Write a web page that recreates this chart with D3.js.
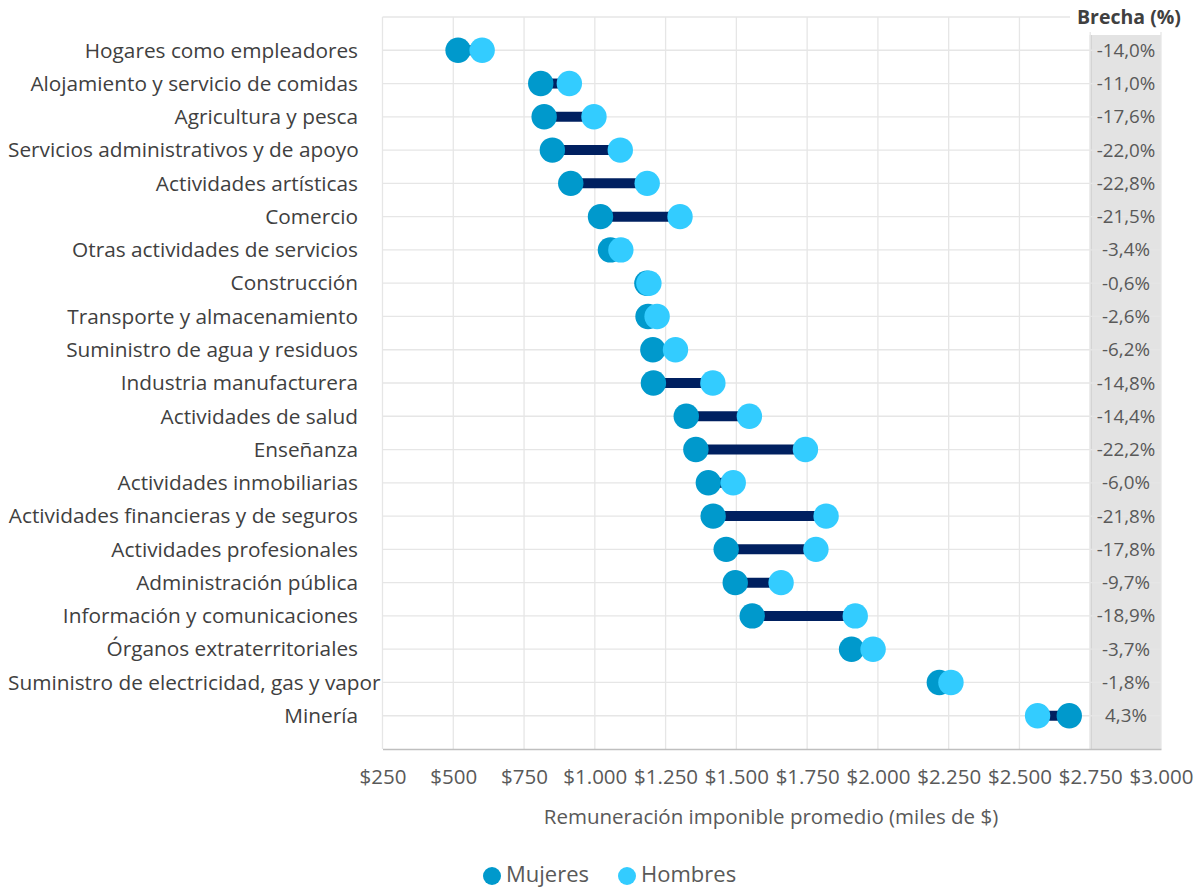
<!DOCTYPE html>
<html lang="es">
<head>
<meta charset="utf-8">
<script src="https://cdn.jsdelivr.net/npm/d3@7"></script>
<style>
  html, body { margin: 0; padding: 0; background: #ffffff; }
  svg { display: block; }
  text { font-family: "Open Sans", "Noto Sans", sans-serif; }
</style>
</head>
<body>
<svg id="chart" width="1204" height="890"></svg>
<script>
// Sectores económicos (de menor a mayor remuneración de mujeres)
const sectores = [
  "Hogares como empleadores",
  "Alojamiento y servicio de comidas",
  "Agricultura y pesca",
  "Servicios administrativos y de apoyo",
  "Actividades artísticas",
  "Comercio",
  "Otras actividades de servicios",
  "Construcción",
  "Transporte y almacenamiento",
  "Suministro de agua y residuos",
  "Industria manufacturera",
  "Actividades de salud",
  "Enseñanza",
  "Actividades inmobiliarias",
  "Actividades financieras y de seguros",
  "Actividades profesionales",
  "Administración pública",
  "Información y comunicaciones",
  "Órganos extraterritoriales",
  "Suministro de electricidad, gas y vapor",
  "Minería"
];

// Remuneración imponible promedio (miles de $)
const mujeres = [517, 809, 821, 850, 915, 1020, 1055, 1184, 1188, 1205, 1207, 1323, 1357, 1401, 1418, 1464, 1496, 1556, 1907, 2217, 2676];
const hombres = [602, 910, 997, 1090, 1185, 1301, 1092, 1191, 1220, 1285, 1417, 1546, 1744, 1489, 1817, 1781, 1658, 1920, 1983, 2258, 2564];

// Brecha salarial publicada por sector
const brecha = ["-14,0%", "-11,0%", "-17,6%", "-22,0%", "-22,8%", "-21,5%", "-3,4%", "-0,6%", "-2,6%", "-6,2%", "-14,8%", "-14,4%", "-22,2%", "-6,0%", "-21,8%", "-17,8%", "-9,7%", "-18,9%", "-3,7%", "-1,8%", "4,3%"];

const ticksX = [250, 500, 750, 1000, 1250, 1500, 1750, 2000, 2250, 2500, 2750, 3000];

const colorMujeres = "#0099cc";
const colorHombres = "#33ccff";
const colorBrecha = "#002060";

const svg = d3.select("#chart");
const plot = { left: 382.5, right: 1161, top: 17, bottom: 749 };

const x = d3.scaleLinear().domain([250, 3000]).range([plot.left, plot.right]);
const y = d3.scaleLinear().domain([0, sectores.length + 1]).range([plot.top, plot.bottom]);

const fmtMoney = v => "$" + d3.format(",")(v).replace(/,/g, ".");

// Franja gris de la columna de brecha
svg.append("rect")
  .attr("x", x(2750)).attr("y", 35)
  .attr("width", x(3000) - x(2750)).attr("height", plot.bottom - 35)
  .attr("fill", "#e3e3e3");
svg.append("line")
  .attr("x1", x(2750) + 0.5).attr("x2", x(2750) + 0.5)
  .attr("y1", 35).attr("y2", plot.bottom)
  .attr("stroke", "#cfcfcf").attr("stroke-width", 2);

// Cuadrícula vertical
const grid = svg.append("g");
grid.selectAll("line.v")
  .data(ticksX)
  .join("line")
  .attr("class", "v")
  .attr("x1", d => x(d)).attr("x2", d => x(d))
  .attr("y1", plot.top).attr("y2", plot.bottom)
  .attr("stroke", "#e6e6e6").attr("stroke-width", 1.3);

// Cuadrícula horizontal (una línea por sector más el borde superior)
const filas = d3.range(0, sectores.length + 1);
grid.selectAll("line.h")
  .data(filas)
  .join("line")
  .attr("class", "h")
  .attr("x1", plot.left).attr("x2", plot.right)
  .attr("y1", d => y(d)).attr("y2", d => y(d))
  .attr("stroke", "#e6e6e6").attr("stroke-width", 1.3);

// Eje inferior
const axis = svg.append("g")
  .attr("transform", `translate(0,${plot.bottom})`)
  .call(d3.axisBottom(x).tickValues(ticksX).tickFormat(fmtMoney).tickSize(0).tickPadding(20));
axis.select(".domain").attr("stroke", "#bfbfbf").attr("stroke-width", 1.5);
axis.selectAll("text")
  .attr("fill", "#595959")
  .style("font-size", "20.5px")
  .style("font-family", "'Open Sans', sans-serif");

// Título del eje
svg.append("text")
  .attr("x", 771).attr("y", 824)
  .attr("text-anchor", "middle")
  .attr("fill", "#595959")
  .style("font-size", "20.5px")
  .text("Remuneración imponible promedio (miles de $)");

// Encabezado de la columna de brecha
svg.append("rect")
  .attr("x", 1070).attr("y", 4).attr("width", 134).attr("height", 28)
  .attr("fill", "#ffffff");
svg.append("text")
  .attr("x", 1129).attr("y", 24)
  .attr("text-anchor", "middle")
  .attr("fill", "#404040")
  .style("font-size", "19.5px")
  .style("font-weight", "bold")
  .text("Brecha (%)");

// Etiquetas de sectores
const etiquetas = svg.append("g");
etiquetas.selectAll("text")
  .data(sectores)
  .join("text")
  .attr("y", (d, i) => y(i + 1))
  .attr("dy", "0.35em")
  .attr("fill", "#404040")
  .style("font-size", "20.8px")
  .text(d => d)
  .each(function () {
    const w = this.getComputedTextLength();
    const end = Math.max(358, 8 + w);
    d3.select(this).attr("x", end).attr("text-anchor", "end");
  });

// Valores de brecha
svg.append("g").selectAll("text")
  .data(brecha)
  .join("text")
  .attr("x", 1126)
  .attr("y", (d, i) => y(i + 1))
  .attr("dy", "0.35em")
  .attr("text-anchor", "middle")
  .attr("fill", "#595959")
  .style("font-size", "18.8px")
  .text(d => d);

// Barras de conexión
const marcas = svg.append("g");
marcas.selectAll("line.gap")
  .data(sectores)
  .join("line")
  .attr("class", "gap")
  .attr("x1", (d, i) => x(mujeres[i])).attr("x2", (d, i) => x(hombres[i]))
  .attr("y1", (d, i) => y(i + 1)).attr("y2", (d, i) => y(i + 1))
  .attr("stroke", colorBrecha).attr("stroke-width", 10);

// Puntos de mujeres
marcas.selectAll("circle.m")
  .data(mujeres)
  .join("circle")
  .attr("class", "m")
  .attr("cx", d => x(d))
  .attr("cy", (d, i) => y(i + 1))
  .attr("r", 12.7)
  .attr("fill", colorMujeres);

// Puntos de hombres
marcas.selectAll("circle.h")
  .data(hombres)
  .join("circle")
  .attr("class", "h")
  .attr("cx", d => x(d))
  .attr("cy", (d, i) => y(i + 1))
  .attr("r", 12.7)
  .attr("fill", colorHombres);

// Leyenda
const leyenda = [
  { nombre: "Mujeres", color: colorMujeres, cx: 492 },
  { nombre: "Hombres", color: colorHombres, cx: 627 }
];
const lg = svg.append("g");
lg.selectAll("circle")
  .data(leyenda)
  .join("circle")
  .attr("cx", d => d.cx).attr("cy", 876).attr("r", 9)
  .attr("fill", d => d.color);
lg.selectAll("text")
  .data(leyenda)
  .join("text")
  .attr("x", d => d.cx + 14).attr("y", 874)
  .attr("dy", "0.35em")
  .attr("fill", "#595959")
  .style("font-size", "22px")
  .text(d => d.nombre);
</script>
</body>
</html>
